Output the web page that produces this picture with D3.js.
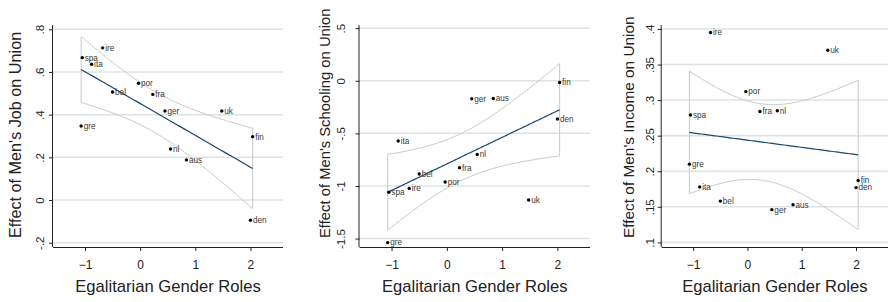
<!DOCTYPE html>
<html>
<head>
<meta charset="utf-8">
<script src="https://cdn.jsdelivr.net/npm/d3@7"></script>
<style>
    body { margin: 0; background: #fff; }
    svg { display: block; font-family: "Liberation Sans", Arial, sans-serif; }
</style>
</head>
<body>
<div id="chart"></div>
<script>
// country codes and the gender roles score (shared x for all panels)
const countries = ['ire', 'spa', 'ita', 'por', 'bel', 'fra', 'ger', 'uk', 'gre', 'fin', 'nl', 'aus', 'den'];
const genderRoles = [-0.68, -1.05, -0.88, -0.03, -0.50, 0.23, 0.45, 1.48, -1.07, 2.04, 0.55, 0.84, 2.00];

// effects (same country order)
const jobEffect = [0.713, 0.667, 0.636, 0.547, 0.506, 0.495, 0.417, 0.417, 0.347, 0.297, 0.239, 0.188, -0.095];
const schoolEffect = [-1.023, -1.06, -0.573, -0.962, -0.886, -0.826, -0.171, -1.133, -1.538, -0.016, -0.70, -0.168, -0.364];
const incomeEffect = [0.395, 0.279, 0.178, 0.312, 0.158, 0.284, 0.146, 0.370, 0.210, 0.187, 0.285, 0.153, 0.177];

const xTicks = [-1, 0, 1, 2];
const jobTicks = [-0.2, 0, 0.2, 0.4, 0.6, 0.8];
const jobTickLabels = ['-.2', '0', '.2', '.4', '.6', '.8'];
const schoolTicks = [-1.5, -1, -0.5, 0, 0.5];
const schoolTickLabels = ['-1.5', '-1', '-.5', '0', '.5'];
const incomeTicks = [0.1, 0.15, 0.2, 0.25, 0.3, 0.35, 0.4];
const incomeTickLabels = ['.1', '.15', '.2', '.25', '.3', '.35', '.4'];

const xTitle = 'Egalitarian Gender Roles';
const T_CRIT = 2.201; // t(0.975, df = 11)

const width = 889, height = 302;
const plotTop = 25, plotBottom = 247;

const panels = [
    { y: jobEffect, ticks: jobTicks, labels: jobTickLabels, domain: [-0.22, 0.82],
      title: "Effect of Men's Job on Union", left: 53, right: 283, titleX: 21, titleSize: 16.2, tickOff: 9.5 },
    { y: schoolEffect, ticks: schoolTicks, labels: schoolTickLabels, domain: [-1.58, 0.53],
      title: "Effect of Men's Schooling on Union", left: 359.5, right: 590, titleX: 330, titleSize: 14.8, tickOff: 14.5 },
    { y: incomeEffect, ticks: incomeTicks, labels: incomeTickLabels, domain: [0.0935, 0.4056],
      title: "Effect of Men's Income on Union", left: 661.7, right: 888, titleX: 634, titleSize: 15.4, tickOff: 8.2 }
];

const svg = d3.select('#chart').append('svg')
    .attr('width', width)
    .attr('height', height);

// simple OLS fit with confidence band, like lfitci
function fitCI(xs, ys) {
    const n = xs.length;
    const mx = d3.mean(xs), my = d3.mean(ys);
    let sxx = 0, sxy = 0;
    xs.forEach((x, i) => { sxx += (x - mx) ** 2; sxy += (x - mx) * (ys[i] - my); });
    const b = sxy / sxx, a = my - b * mx;
    let sse = 0;
    xs.forEach((x, i) => { sse += (ys[i] - a - b * x) ** 2; });
    const s = Math.sqrt(sse / (n - 2));
    const x0 = d3.min(xs), x1 = d3.max(xs);
    const pts = d3.range(0, 101).map(k => {
        const x = x0 + (x1 - x0) * k / 100;
        const yh = a + b * x;
        const h = T_CRIT * s * Math.sqrt(1 / n + (x - mx) ** 2 / sxx);
        return { x: x, y: yh, lo: yh - h, hi: yh + h };
    });
    return pts;
}

panels.forEach(p => {
    const g = svg.append('g');
    const x = d3.scaleLinear().domain([-1.58, 2.59]).range([p.left, p.right]);
    const y = d3.scaleLinear().domain(p.domain).range([plotBottom, plotTop]);

    // gridlines
    g.selectAll('.grid')
        .data(p.ticks)
        .enter().append('line')
        .attr('x1', p.left).attr('x2', p.right)
        .attr('y1', d => y(d)).attr('y2', d => y(d))
        .attr('stroke', '#dce3e4')
        .attr('stroke-width', 1.5);

    // y axis
    const yAxis = g.append('g')
        .attr('transform', `translate(${p.left},0)`)
        .call(d3.axisLeft(y).tickValues(p.ticks).tickSize(4).tickFormat((d, i) => p.labels[i]));
    yAxis.select('.domain').attr('d', `M-0.5,${plotTop}V${plotBottom}`).attr('stroke', '#222');
    yAxis.selectAll('.tick line').attr('stroke', '#222');
    yAxis.selectAll('.tick text')
        .attr('x', null).attr('dy', null)
        .attr('transform', `translate(${-p.tickOff},0) rotate(-90)`)
        .attr('text-anchor', 'middle')
        .attr('font-size', 11.5)
        .attr('fill', '#222');

    // x axis
    const xAxis = g.append('g')
        .attr('transform', `translate(0,${plotBottom})`)
        .call(d3.axisBottom(x).tickValues(xTicks).tickSize(4).tickFormat(d3.format('d')));
    xAxis.select('.domain').attr('d', `M${p.left},0.5H${p.right}`).attr('stroke', '#222');
    xAxis.selectAll('.tick line').attr('stroke', '#222');
    xAxis.selectAll('.tick text')
        .attr('y', 21.5).attr('dy', null)
        .attr('font-size', 12)
        .attr('fill', '#222');

    // titles
    g.append('text')
        .attr('x', (p.left + p.right) / 2)
        .attr('y', 292)
        .attr('text-anchor', 'middle')
        .attr('font-size', 16.6)
        .attr('fill', '#222')
        .text(xTitle);
    g.append('text')
        .attr('transform', `translate(${p.titleX},238) rotate(-90)`)
        .attr('text-anchor', 'start')
        .attr('font-size', p.titleSize)
        .attr('fill', '#222')
        .text(p.title);

    // fit + band
    const fit = fitCI(genderRoles, p.y);
    const band = fit.map(d => [x(d.x), y(d.hi)])
        .concat(fit.slice().reverse().map(d => [x(d.x), y(d.lo)]));
    g.append('path')
        .attr('d', d3.line()(band) + 'Z')
        .attr('fill', 'none')
        .attr('stroke', '#c9c9c9')
        .attr('stroke-width', 1);
    g.append('path')
        .datum(fit)
        .attr('d', d3.line().x(d => x(d.x)).y(d => y(d.y)))
        .attr('fill', 'none')
        .attr('stroke', '#1a476f')
        .attr('stroke-width', 1.2);

    // points and labels
    const pts = countries.map((c, i) => ({ c: c, x: genderRoles[i], y: p.y[i] }));
    g.selectAll('.dot')
        .data(pts)
        .enter().append('circle')
        .attr('cx', d => x(d.x))
        .attr('cy', d => y(d.y))
        .attr('r', 1.7)
        .attr('fill', '#000');
    g.selectAll('.lab')
        .data(pts)
        .enter().append('text')
        .attr('x', d => x(d.x) + 2.5)
        .attr('y', d => y(d.y))
        .attr('dy', '0.35em')
        .attr('font-size', 8.2)
        .attr('fill', '#3a3a3a')
        .text(d => d.c);
});
</script>
</body>
</html>
